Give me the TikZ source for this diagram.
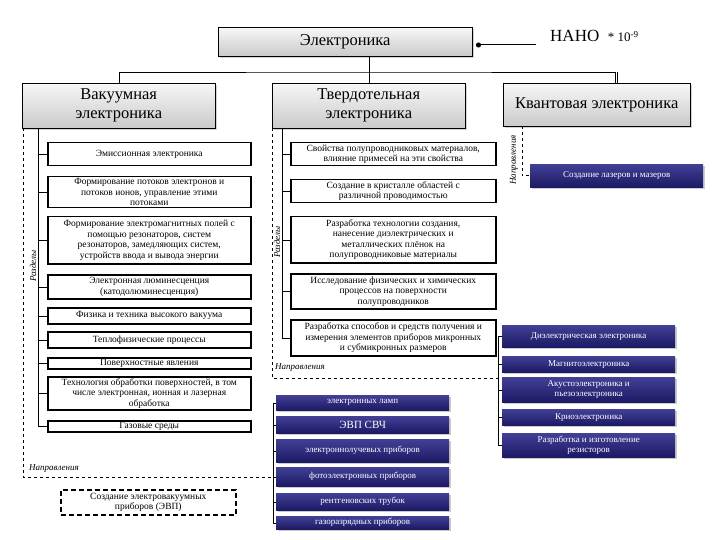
\documentclass[tikz,border=0pt]{standalone}
\usepackage{fontspec}
\setmainfont{Liberation Serif}
\usepackage{xcolor}
\usetikzlibrary{shadows, arrows.meta}

\definecolor{sinij}{RGB}{28,25,100}
\definecolor{sinijsvet}{RGB}{66,64,150}

\tikzset{
  glav/.style={draw, anchor=north west, top color=gray!6, bottom color=gray!42,
    drop shadow={shadow xshift=2pt, shadow yshift=-2pt, opacity=0.35},
    align=center, inner sep=1pt, font=\fontsize{16.5}{19}\selectfont},
  tema/.style={draw, line width=1.5pt, fill=white, anchor=north west, align=center,
    inner sep=1pt, font=\fontsize{9.5}{10.5}\selectfont},
  pribor/.style={anchor=north west, top color=sinijsvet, bottom color=sinij, text=white,
    drop shadow={shadow xshift=1.5pt, shadow yshift=-1.5pt, opacity=0.4},
    align=center, inner sep=1pt, minimum width=173pt, font=\fontsize{9}{10}\selectfont},
  metka/.style={inner sep=0pt, font=\fontsize{9}{10}\selectfont\itshape},
}

\begin{document}
\begin{tikzpicture}[x=1pt, y=-1pt]
    \useasboundingbox (0,0) rectangle (720,540);

    % Верхний уровень
    \node[glav, minimum width=254pt, minimum height=29pt] (el) at (218,27) {Электроника};
    \coordinate (nanoR) at (476,45);
    \coordinate (nanoL) at (536,45);
    \draw[{Circle[length=5pt]}-, line width=1pt] (nanoR) -- (nanoL);
    \node[anchor=west, inner sep=0pt] (nano) at (550,36)
        {\fontsize{17}{19}\selectfont НАНО \ \fontsize{13}{15}\selectfont* 10\textsuperscript{-9}};

    % Три направления
    \node[glav, minimum width=193pt, minimum height=45pt] (vk) at (22,83) {Вакуумная\\электроника};
    \node[glav, minimum width=193pt, minimum height=45pt] (tv) at (272,83) {Твердотельная\\электроника};
    \node[glav, minimum width=187pt, minimum height=43pt] (kv) at (503,83) {Квантовая электроника};

    \coordinate (bus) at (370,72);
    \coordinate (kvtop) at (615,83);
    \draw (el.south -| tv.north) -- (tv.north);
    \draw (vk.north) |- (bus) -| (kvtop);
    \draw ([xshift=2pt]kvtop) -- ++(0,-11);

    % Вакуумная электроника: разделы
    \node[tema, minimum width=203pt, minimum height=23pt] (v1) at (47,142) {Эмиссионная электроника};
    \node[tema, minimum width=203pt, minimum height=31pt] (v2) at (47,176) {Формирование потоков электронов и\\потоков ионов, управление этими\\потоками};
    \node[tema, minimum width=203pt, minimum height=47pt] (v3) at (47,216) {Формирование электромагнитных полей с\\помощью резонаторов, систем\\резонаторов, замедляющих систем,\\устройств ввода и вывода энергии};
    \node[tema, minimum width=203pt, minimum height=24pt] (v4) at (47,274) {Электронная люминесценция\\(катодолюминесценция)};
    \node[tema, minimum width=203pt, minimum height=16pt] (v5) at (47,307) {Физика и техника высокого вакуума};
    \node[tema, minimum width=203pt, minimum height=16pt] (v6) at (47,331) {Теплофизические процессы};
    \node[tema, minimum width=203pt, minimum height=11pt] (v7) at (47,357) {Поверхностные явления};
    \node[tema, minimum width=203pt, minimum height=33pt] (v8) at (47,376) {Технология обработки поверхностей, в том\\числе электронная, ионная и лазерная\\обработка};
    \node[tema, minimum width=203pt, minimum height=11pt] (v9) at (47,420) {Газовые среды};

    \coordinate (vks) at (38,128);
    \coordinate (vkd) at (23,128);
    \draw (vks) |- (v9.west);
    \foreach \i in {1,...,8} {
        \draw (v\i.west) -- (v\i.west -| vks);
    }

    % Твердотельная электроника: разделы
    \node[tema, minimum width=205pt, minimum height=23pt] (t1) at (290,142) {Свойства полупроводниковых материалов,\\влияние примесей на эти свойства};
    \node[tema, minimum width=205pt, minimum height=23pt] (t2) at (290,179) {Создание в кристалле областей с\\различной проводимостью};
    \node[tema, minimum width=205pt, minimum height=46pt] (t3) at (290,216) {Разработка технологии создания,\\нанесение диэлектрических и\\металлических плёнок на\\полупроводниковые материалы};
    \node[tema, minimum width=205pt, minimum height=35pt] (t4) at (290,273) {Исследование физических и химических\\процессов на поверхности\\полупроводников};
    \node[tema, minimum width=205pt, minimum height=36pt] (t5) at (290,319) {Разработка способов и средств получения и\\измерения элементов приборов микронных\\и субмикронных размеров};

    \coordinate (tvs) at (282,128);
    \coordinate (tvd) at (272,128);
    \draw (tvs) |- (t5.west);
    \foreach \i in {1,...,4} {
        \draw (t\i.west) -- (t\i.west -| tvs);
    }

    % Направления твердотельной электроники
    \node[pribor, minimum height=22pt] (d1) at (502,325) {Диэлектрическая электроника};
    \node[pribor, minimum height=16pt] (d2) at (502,356) {Магнитоэлектроника};
    \node[pribor, minimum height=25pt] (d3) at (502,377) {Акустоэлектроника и\\пьезоэлектроника};
    \node[pribor, minimum height=16pt] (d4) at (502,409) {Криоэлектроника};
    \node[pribor, minimum height=24pt] (d5) at (502,433) {Разработка и изготовление\\резисторов};

    \coordinate (dbr) at (498,378);
    \draw ([xshift=-4pt]d1.west) |- (d5.west);
    \foreach \i in {1,...,4} {
        \draw (d\i.west) -- ++(-4,0);
    }
    \draw[dashed] (tvd) |- (dbr);
    \node[metka, rotate=90] (rz2) at (277,242) {Разделы};
    \node[metka, anchor=west] (np2) at (275,368) {Направления};

    % Направления вакуумной электроники
    \node[pribor, minimum height=15pt] (p1) at (276,395) {электронных ламп};
    \node[pribor, minimum height=17pt, font=\fontsize{11}{12}\selectfont] (p2) at (276,416) {ЭВП СВЧ};
    \node[pribor, minimum height=23pt] (p3) at (276,439) {электроннолучевых приборов};
    \node[pribor, minimum height=19pt] (p4) at (276,467) {фотоэлектронных приборов};
    \node[pribor, minimum height=17pt] (p5) at (276,493) {рентгеновских трубок};
    \node[pribor, minimum height=13pt] (p6) at (276,516) {газоразрядных приборов};

    \draw ([xshift=-3pt]p1.west) |- (p6.west);
    \foreach \i in {1,...,5} {
        \draw (p\i.west) -- ++(-3,0);
    }
    \draw[dashed] (vkd) |- ([xshift=-3pt]p4.west);
    \node[metka, rotate=90] (rz1) at (33,266) {Разделы};
    \node[metka, anchor=west] (np1) at (29,469) {Направления};

    \node[draw, line width=1.6pt, dash pattern=on 5pt off 3pt, anchor=north west,
        minimum width=175pt, minimum height=25pt, align=center, inner sep=2pt,
        font=\fontsize{9.5}{10}\selectfont] (evp) at (60,489)
        {Создание электровакуумных\\приборов (ЭВП)};

    % Квантовая электроника
    \node[pribor, minimum height=23pt] (k1) at (530,164) {Создание лазеров и мазеров};
    \coordinate (kvd) at (522,126);
    \draw[dashed] (kvd) |- (k1.west);
    \node[metka, rotate=90] (np3) at (514,160) {Направления};
\end{tikzpicture}
\end{document}
